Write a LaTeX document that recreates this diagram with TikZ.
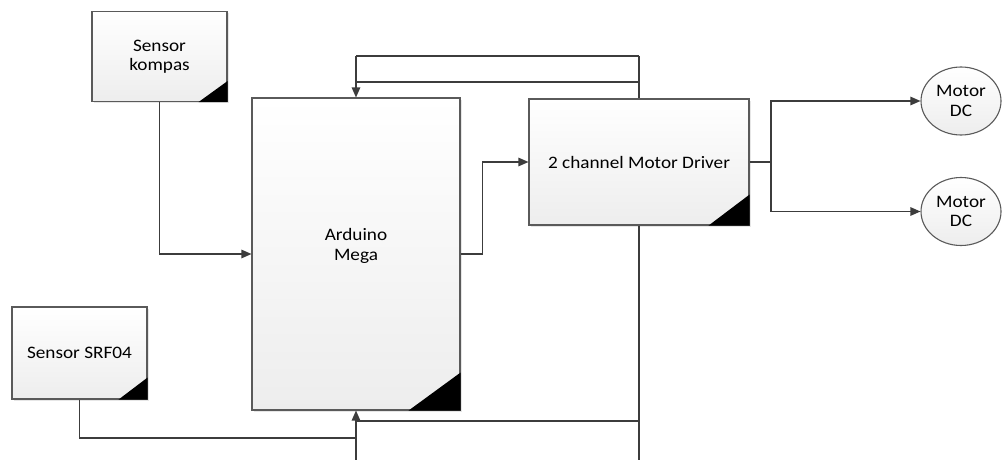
\documentclass[tikz,border=0pt]{standalone}
\usepackage{fontspec}
\setmainfont{Carlito}[FakeStretch=1.1]
\usetikzlibrary{arrows.meta,shadows,shapes.geometric}
\definecolor{linec}{HTML}{3C3C3C}
\definecolor{borderc}{HTML}{5A5A5A}
\tikzset{
  blockbox/.style={draw=borderc, line width=1.1pt, top color=white, bottom color=gray!14,
    drop shadow={shadow xshift=2pt, shadow yshift=-2pt, opacity=0.2, fill=gray},
    align=center, inner sep=0pt, font=\fontsize{17.5}{19.5}\selectfont},
  motor/.style={ellipse, draw=borderc, line width=1.1pt, top color=white, bottom color=gray!14,
    minimum width=80pt, minimum height=68pt, inner sep=0pt, align=center,
    font=\fontsize{17.5}{19.5}\selectfont},
  wire/.style={draw=linec, line width=1.3pt},
  arr/.style={wire, -{Triangle[length=10pt,width=8.5pt]}},
}
\begin{document}
\begin{tikzpicture}[x=1pt,y=-1pt]
\useasboundingbox (0,0) rectangle (1002,460);
% blocks
\node[blockbox, minimum width=135pt, minimum height=90pt] (k) at (159.5,56.5) {Sensor\\kompas};
\node[blockbox, minimum width=135pt, minimum height=92pt] (s) at (79.5,353) {Sensor SRF04};
\node[blockbox, minimum width=208pt, minimum height=312pt,
  label={[align=center, yshift=8pt, font=\fontsize{17.5}{19.5}\selectfont]center:Arduino\\Mega}] (a) at (356,254) {};
\node[blockbox, minimum width=220pt, minimum height=126pt] (d) at (639,162) {2 channel Motor Driver};
\node[motor] (m1) at (961,101) {Motor\\DC};
\node[motor] (m2) at (961,211.5) {Motor\\DC};
% corner triangles
\fill ([xshift=-29pt]k.south east) -- (k.south east) -- ([yshift=21pt]k.south east) -- cycle;
\fill ([xshift=-29pt]s.south east) -- (s.south east) -- ([yshift=22pt]s.south east) -- cycle;
\fill ([xshift=-52pt]a.south east) -- (a.south east) -- ([yshift=38pt]a.south east) -- cycle;
\fill ([xshift=-41pt]d.south east) -- (d.south east) -- ([yshift=31pt]d.south east) -- cycle;
% coordinates
\coordinate (t0) at (356,56);
\coordinate (t1) at (639,56);
\coordinate (h0) at (356,82);
\coordinate (h1) at (639,82);
\coordinate (j1) at (356,438);
\coordinate (j2) at (356,421);
\coordinate (r2) at (639,421);
\coordinate (b1) at (356,460);
\coordinate (b2) at (639,460);
\coordinate (sp) at (771,162);
% connectors
\draw[arr] (k.south) |- (a.west);
\draw[wire] (s.south) |- (j1);
\draw[arr] (b1) -- (a.south);
\draw[wire] (j2) -- (r2);
\draw[wire] (t1) -- (d.north);
\draw[wire] (d.south) -- (b2);
\draw[wire] (t1) -- (t0);
\draw[arr] (t0) -- (a.north);
\draw[wire] (h0) -- (h1);
\draw[arr] (a.east) -- ++(22,0) |- (d.west);
\draw[wire] (d.east) -- (sp);
\draw[arr] (sp) |- (m1.west);
\draw[arr] (sp) |- (m2.west);
\end{tikzpicture}
\end{document}
